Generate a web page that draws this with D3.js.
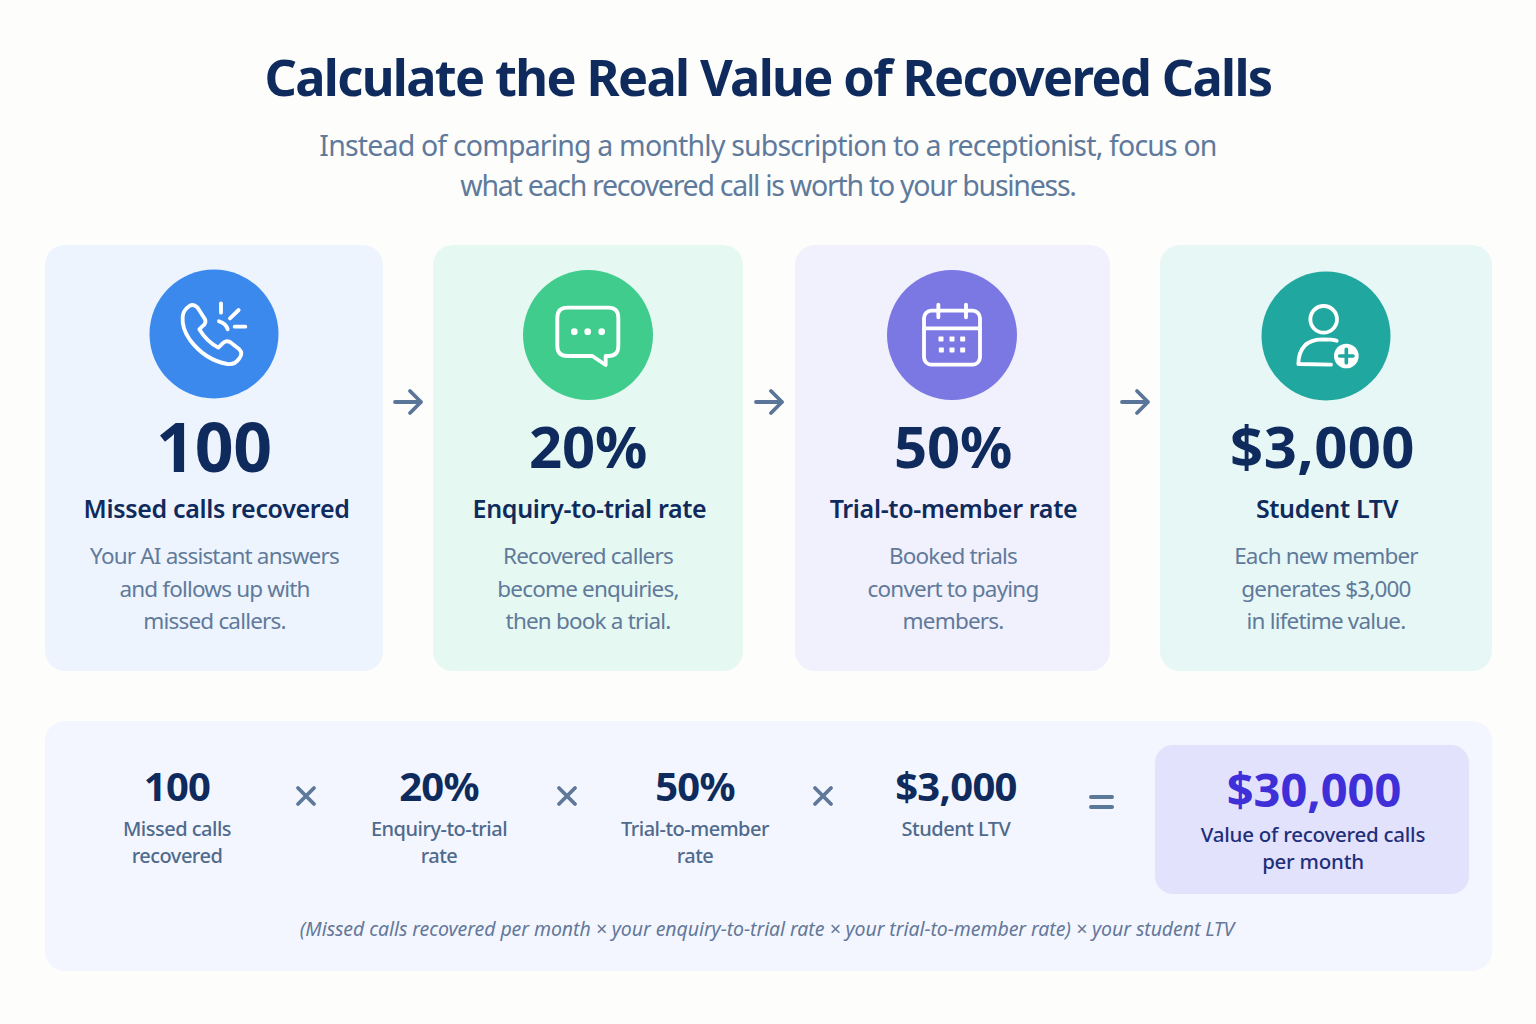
<!DOCTYPE html>
<html><head><meta charset="utf-8">
<script src="https://cdn.jsdelivr.net/npm/d3@7/dist/d3.min.js"></script>
<style>html,body{margin:0;padding:0;background:#fdfdfb}svg{display:block}text{font-family:"Noto Sans",sans-serif}</style>
</head><body>
<div id="chart"></div>
<script>
const titleText = "Calculate the Real Value of Recovered Calls";
const subtitleLines = ["Instead of comparing a monthly subscription to a receptionist, focus on","what each recovered call is worth to your business."];
const cardValues = ["100","20%","50%","$3,000"];
const cardHeadings = ["Missed calls recovered","Enquiry-to-trial rate","Trial-to-member rate","Student LTV"];
const cardBodies = [
 ["Your AI assistant answers","and follows up with","missed callers."],
 ["Recovered callers","become enquiries,","then book a trial."],
 ["Booked trials","convert to paying","members."],
 ["Each new member","generates $3,000","in lifetime value."]];
const cardIcons = ["phone","chat","calendar","person"];
const formulaValues = ["100","20%","50%","$3,000"];
const formulaLabels = [["Missed calls","recovered"],["Enquiry-to-trial","rate"],["Trial-to-member","rate"],["Student LTV"]];
const resultValue = "$30,000";
const resultLabel = ["Value of recovered calls","per month"];
const footnote = "(Missed calls recovered per month × your enquiry-to-trial rate × your trial-to-member rate) × your student LTV";

const cardBoxes = [[45,383],[433,743],[795,1110],[1160,1492]];
const cardFills = ["#edf4fe","#e6f8f2","#f1f0fd","#e6f7f6"];
const circleFills = ["#3b89ed","#40cc8c","#7b78e3","#20a79f"];
const circlePos = [[214,334,64.5],[588,335,65],[952,335,65],[1326,336,64.5]];
const iconOffset = [[140,260],[515,260],[880,260],[1255,260]];
const cardCx = [214.5,588,953,1326];
const headCx = [216.5,589.5,953.5,1327];
const valueCx = [214,588,953,1322.5];
const valueSize = [68,58,58,58];
const arrowX = [394,755,1121];
const formulaCx = [177,439,695,956];
const crossX = [306,567,823];

const svg = d3.select("#chart").append("svg").attr("width",1536).attr("height",1024);
svg.append("rect").attr("width",1536).attr("height",1024).attr("fill","#fdfdfb");

function txt(g,s,x,y,size,weight,fill,ls){
  return g.append("text").attr("x",x).attr("y",y).attr("text-anchor","middle")
    .attr("font-size",size).attr("font-weight",weight).attr("fill",fill)
    .attr("letter-spacing",ls||0).text(s);
}
const NAVY="#0f2a5c", SUB="#5f7a9c", BODY="#617a9a", LABEL="#4f6a8c";

txt(svg,titleText,768,96,50.5,700,NAVY,-1.65);
const subSpacing=[-0.83,-1.27];
subtitleLines.forEach((l,i)=>txt(svg,l,768,156+i*39.5,28.5,400,SUB,subSpacing[i]));

const cards=svg.selectAll("g.card").data(cardValues).join("g").attr("class","card");
cards.each(function(v,i){
  const g=d3.select(this), b=cardBoxes[i];
  g.append("rect").attr("x",b[0]).attr("y",245).attr("width",b[1]-b[0]).attr("height",426).attr("rx",20).attr("fill",cardFills[i]);
  const c=circlePos[i];
  g.append("circle").attr("cx",c[0]).attr("cy",c[1]).attr("r",c[2]).attr("fill",circleFills[i]);
  const ic=g.append("g").attr("transform",`translate(${iconOffset[i][0]},${iconOffset[i][1]}) scale(${1/3})`)
    .attr("fill","none").attr("stroke","#fff").attr("stroke-width",11.5).attr("stroke-linecap","round").attr("stroke-linejoin","round");
  drawIcon(ic,cardIcons[i],circleFills[i]);
  txt(g,v,valueCx[i],valueSize[i]===68?472:468,valueSize[i],700,NAVY,i===3?0.4:-0.2);
  txt(g,cardHeadings[i],headCx[i],518,25,600,NAVY,-0.33);
  cardBodies[i].forEach((l,j)=>txt(g,l,cardCx[i],564+j*32.7,22.5,400,BODY,-0.82));
});

function drawIcon(g,name,col){
  if(name==="phone"){
    g.append("path").attr("d","M148 138Q160 130 172 142L195 178Q200 190 188 198L178 208Q200 245 235 263L248 250Q258 240 270 246L298 268Q310 280 298 295Q285 315 262 312Q195 300 150 240Q125 205 128 170Q130 150 148 138Z");
    g.append("path").attr("d","M237 184Q258 190 263 208M243 130L243 158M296 150L270 175M284 200L316 200");
  } else if(name==="chat"){
    g.append("path").attr("d","M157 143H280Q310 143 310 173V258Q310 288 280 288H272V315L232 288H157Q127 288 127 258V173Q127 143 157 143Z");
    [178,218,260].forEach(x=>g.append("circle").attr("cx",x).attr("cy",215).attr("r",10).attr("fill","#fff").attr("stroke","none"));
  } else if(name==="calendar"){
    g.append("rect").attr("x",132).attr("y",152).attr("width",168).attr("height",162).attr("rx",22);
    g.append("path").attr("d","M132 205H300M175 134V172M258 134V172");
    [[183,237],[216,237],[248,237],[184,270],[216,270],[248,270]].forEach(p=>g.append("rect").attr("x",p[0]-7.5).attr("y",p[1]-7.5).attr("width",15).attr("height",15).attr("rx",2).attr("fill","#fff").attr("stroke","none"));
  } else {
    g.append("circle").attr("cx",206).attr("cy",178).attr("r",40);
    g.append("path").attr("d","M245 242Q235 238 200 238Q132 240 130 312L228 314");
    g.append("circle").attr("cx",274).attr("cy",288).attr("r",37).attr("fill","#fff").attr("stroke","none");
    g.append("path").attr("d","M274 268V308M254 288H294").attr("stroke",col).attr("stroke-width",11);
  }
}

arrowX.forEach(x=>{
  svg.append("path").attr("d",`M${x+1} 402H${x+27}M${x+16} 391L${x+27} 402L${x+16} 413`).attr("fill","none").attr("stroke","#5a7598").attr("stroke-width",3.8).attr("stroke-linecap","round").attr("stroke-linejoin","round");
});

svg.append("rect").attr("x",45).attr("y",721).attr("width",1447).attr("height",250).attr("rx",20).attr("fill","#f3f6fe");
formulaValues.forEach((v,i)=>{
  txt(svg,v,formulaCx[i],801,40,700,NAVY,-0.7);
  formulaLabels[i].forEach((l,j)=>txt(svg,l,formulaCx[i],836+j*27,20,500,LABEL,-0.5));
});
crossX.forEach(x=>{
  svg.append("path").attr("d",`M${x-8} 788L${x+8} 804M${x+8} 788L${x-8} 804`).attr("stroke","#5d7898").attr("stroke-width",3.8).attr("stroke-linecap","round");
});
svg.append("path").attr("d","M1091 797H1112M1091 807H1112").attr("stroke","#5a7898").attr("stroke-width",4).attr("stroke-linecap","round");
svg.append("rect").attr("x",1155).attr("y",745).attr("width",314).attr("height",149).attr("rx",18).attr("fill","#e2e2fc");
txt(svg,resultValue,1314,807,47,700,"#3f2fd8");
resultLabel.forEach((l,j)=>txt(svg,l,1313,842+j*27,20.5,500,"#1f2f7a",-0.25));
txt(svg,footnote,767,936,19.5,400,"#64789a",-0.07).attr("font-style","italic");
</script>
</body></html>
